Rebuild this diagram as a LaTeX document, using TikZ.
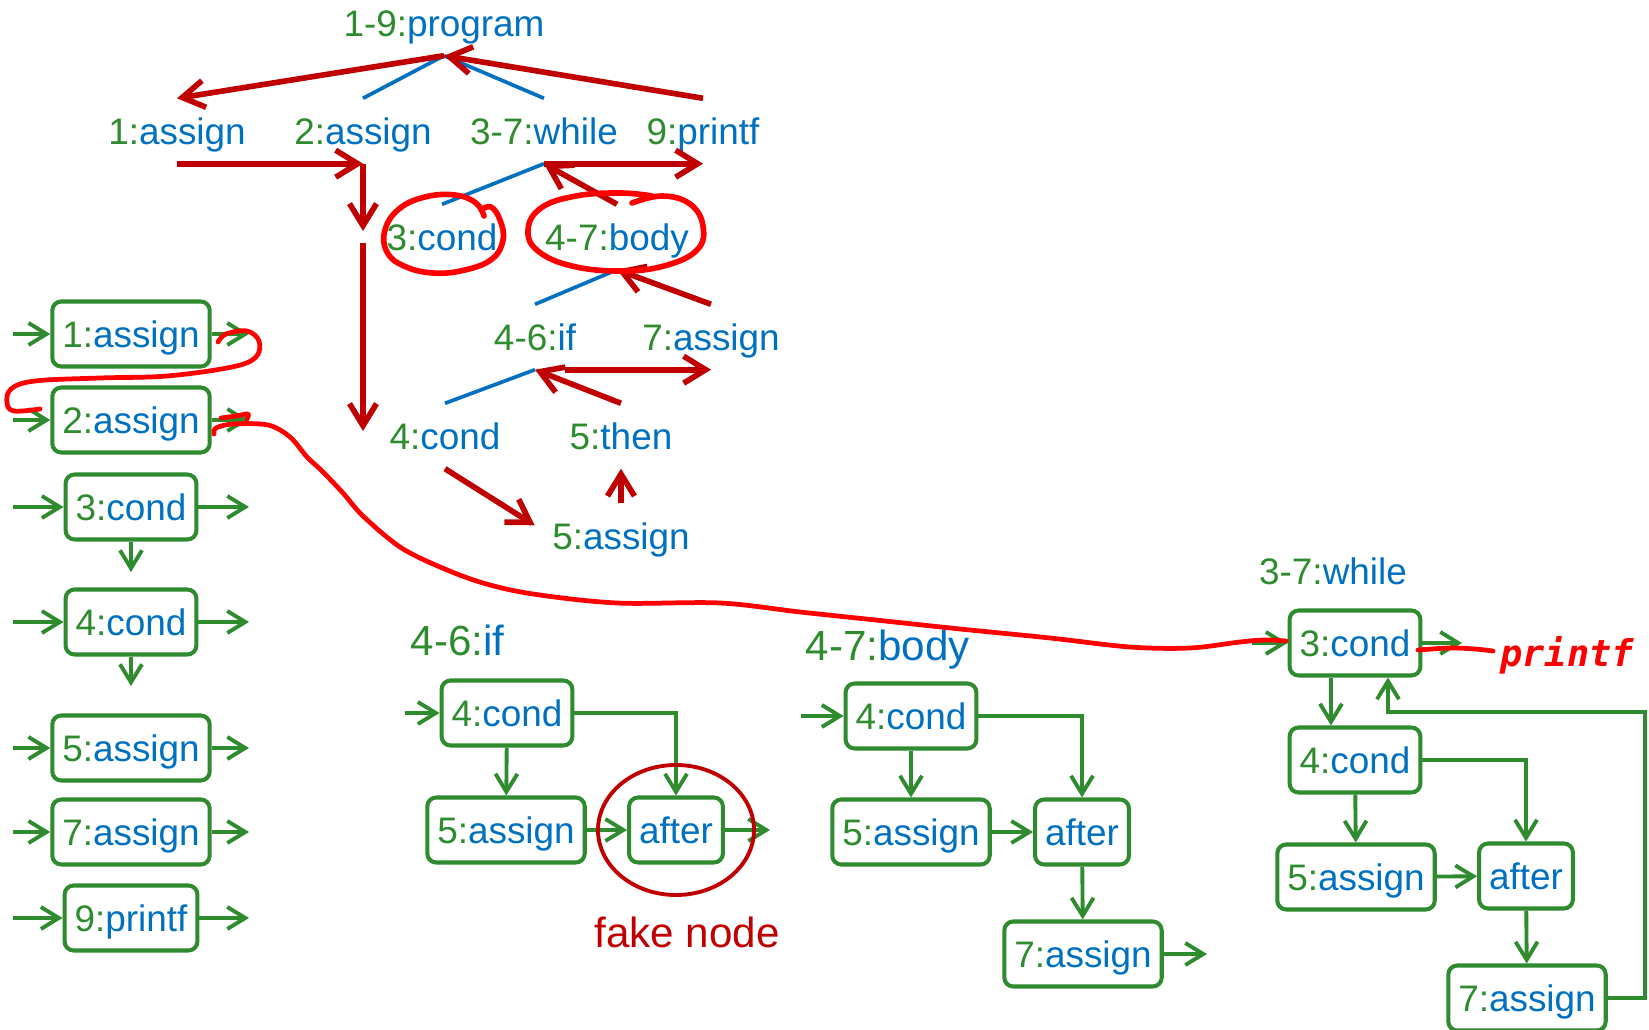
\documentclass[tikz,border=0pt]{standalone}
\usepackage{fontspec}
\setmainfont{Liberation Sans}
\newfontfamily\penfont{DejaVu Sans Mono}
\usepackage{tikz}
\usetikzlibrary{arrows.meta}
\usepackage{xcolor}

\definecolor{cfggreen}{RGB}{46,139,46}
\definecolor{cfgblue}{RGB}{0,112,192}
\definecolor{walkred}{RGB}{192,0,0}
\definecolor{penred}{RGB}{255,0,0}

% line number part in green, kind of statement in blue
\newcommand{\cfgname}[2]{\textcolor{cfggreen}{#1}\textcolor{cfgblue}{#2}}

\begin{document}
\begin{tikzpicture}[x=0.1mm, y=-0.1mm,
  tree/.style={inner sep=0pt, minimum height=6.4mm, text height=7.5pt, text depth=0pt, font=\fontsize{10.5}{12}\selectfont},
  blk/.style={draw=cfggreen, line width=1.15pt, rounded corners=0.9mm, inner xsep=1mm, inner ysep=0pt, minimum height=6.5mm, text height=7.5pt, text depth=0pt, font=\fontsize{10.5}{12}\selectfont},
  group/.style={inner sep=0pt, text height=8.6pt, text depth=0pt, font=\fontsize{12}{14}\selectfont},
  flow/.style={cfggreen, line width=1.1pt, -{Straight Barb[length=1.8mm,width=2.2mm]}},
  walk/.style={walkred, line width=1.6pt, -{Straight Barb[length=2.2mm,width=2.7mm]}},
  ast/.style={cfgblue, line width=1.05pt},
  pen/.style={penred, line width=1.35pt, line cap=round, line join=round}]
\useasboundingbox (0,0) rectangle (1649,1030);

% syntax tree
\node[tree] (prog) at (444,23) {\cfgname{1-9:}{program}};
\node[tree] (t1) at (177,131) {\cfgname{1:}{assign}};
\node[tree] (t2) at (363,131) {\cfgname{2:}{assign}};
\node[tree] (tw) at (544,131) {\cfgname{3-7:}{while}};
\node[tree] (t9) at (703,131) {\cfgname{9:}{printf}};
\node[tree] (tc) at (442,237) {\cfgname{3:}{cond}};
\node[tree] (tb) at (617,237) {\cfgname{4-7:}{body}};
\node[tree] (ti) at (535,337) {\cfgname{4-6:}{if}};
\node[tree] (t7) at (711,337) {\cfgname{7:}{assign}};
\node[tree] (t4) at (445,436) {\cfgname{4:}{cond}};
\node[tree] (tt) at (621,436) {\cfgname{5:}{then}};
\node[tree] (ta) at (621,536) {\cfgname{5:}{assign}};

\draw[ast] (prog.south) -- (t2.north);
\draw[ast] (prog.south) -- (tw.north);
\draw[ast] (tw.south) -- (tc.north);
\draw[ast] (tb.south) -- (ti.north);
\draw[ast] (ti.south) -- (t4.north);

% walk over the tree
\draw[walk] (prog.south) -- (t1.north);
\draw[walk] (t9.north) -- (prog.south);
\draw[walk] (t1.south) -- (t2.south);
\draw[walk, shorten >=0.6mm] (t2.south) -- (t2.south |- tc.west);
\draw[walk, shorten <=0.6mm, shorten >=0.5mm] (t2.south |- tc.west) -- (t2.south |- t4.west);
\draw[walk] (tw.south) -- (t9.south);
\draw[walk] (tb.north) -- (tw.south);
\draw[walk] (t7.north) -- (tb.south);
\draw[walk] (tt.north) -- (ti.south);
\draw[walk, shorten <=3mm] (ti.south) -- (t7.south);
\draw[walk, shorten >=2mm] (t4.south) -- (ta.west);
\draw[walk] (ta.north) -- (tt.south);

% one block per statement
\foreach \n/\idx/\kind/\y in {1/1:/assign/334, 2/2:/assign/420, 3/3:/cond/507, 4/4:/cond/622, 5/5:/assign/748, 7/7:/assign/832, 9/9:/printf/918}{
  \node[blk] (b\n) at (131,\y) {\cfgname{\idx}{\kind}};
  \coordinate (b\n in) at (13,\y);
  \coordinate (b\n out) at (249,\y);
  \draw[flow] (b\n in) -- (b\n);
  \draw[flow] (b\n) -- (b\n out);
}
\coordinate (b3 down) at (131,572);
\coordinate (b4 down) at (131,686);
\draw[flow] (b3) -- (b3 down);
\draw[flow] (b4) -- (b4 down);

% if
\node[group, anchor=west] (ifhead) at (410,640) {\cfgname{4-6:}{if}};
\node[blk] (i4) at (507,713) {\cfgname{4:}{cond}};
\node[blk] (i5) at (506,830) {\cfgname{5:}{assign}};
\node[blk] (ia) at (676,830) {\textcolor{cfgblue}{after}};
\coordinate (i in) at (405,713);
\coordinate (i out) at (770,830);
\draw[flow] (i in) -- (i4);
\draw[flow] (i4) -- (i5);
\draw[flow] (i4) -| (ia);
\draw[flow] (i5) -- (ia);
\draw[flow] (ia) -- (i out);
\draw[walkred, line width=1.1pt] (ia.center) ellipse [x radius=7.8mm, y radius=6.5mm];
\node[group, text=walkred] (fake) at (687,932) {fake node};

% body
\node[group, anchor=west] (bodyhead) at (805,645) {\cfgname{4-7:}{body}};
\node[blk] (y4) at (911,716) {\cfgname{4:}{cond}};
\node[blk] (y5) at (911,832) {\cfgname{5:}{assign}};
\node[blk] (ya) at (1082,832) {\textcolor{cfgblue}{after}};
\node[blk] (y7) at (1083,954) {\cfgname{7:}{assign}};
\coordinate (y in) at (801,716);
\coordinate (y out) at (1207,954);
\draw[flow] (y in) -- (y4);
\draw[flow] (y4) -- (y5);
\draw[flow] (y4) -| (ya);
\draw[flow] (y5) -- (ya);
\draw[flow] (ya) -- (y7);
\draw[flow] (y7) -- (y out);

% while
\node[tree] (whilehead) at (1333,571) {\cfgname{3-7:}{while}};
\node[blk] (w3) at (1355,643) {\cfgname{3:}{cond}};
\node[blk] (w4) at (1355,760) {\cfgname{4:}{cond}};
\node[blk] (w5) at (1356,877) {\cfgname{5:}{assign}};
\node[blk] (wa) at (1526,876) {\textcolor{cfgblue}{after}};
\node[blk] (w7) at (1527,998) {\cfgname{7:}{assign}};
\coordinate (w in) at (1252,643);
\coordinate (w out) at (1462,643);
\coordinate (w loop) at (1645,712);
\draw[flow] (w in) -- (w3);
\draw[flow] (w3) -- (w out);
\draw[flow] ([xshift=-2.4mm]w3.south) -- ([xshift=-2.4mm]w4.north);
\draw[flow] (w4) -- (w5);
\draw[flow] (w4) -| (wa);
\draw[flow] (w5) -- (wa);
\draw[flow] (wa) -- (w7);
\draw[flow] (w7) -| (w loop) -| ([xshift=3.3mm]w3.south);

% pen notes on top
\draw[pen, line width=1.6pt] plot[smooth, tension=0.7] coordinates {(484,216) (476,203) (455,195) (425,197) (399,209) (385,230) (387,252) (404,266) (433,273) (465,270) (492,259) (503,240) (500,220) (491,207) (481,210)};
\draw[pen, line width=1.6pt] plot[smooth, tension=0.7] coordinates {(632,203) (662,196) (690,204) (703,226) (697,250) (664,266) (620,271) (572,266) (538,251) (528,230) (541,208) (576,196) (620,193) (652,196)};
\draw[pen] plot[smooth, tension=0.6] coordinates {(218,342) (226,334) (247,331) (259,341) (256,357) (232,367) (167,376) (100,378) (35,381) (11,389) (7,403) (14,411) (40,409)};
\draw[pen] plot[smooth] coordinates {(221,418) (236,416) (248,414) (247,419)};
\draw[pen] plot[smooth, tension=0.55] coordinates {(214,434) (216,428) (233,424) (268,425) (290,437) (307,457) (322,471) (343,493) (363,516) (400,547) (440,567) (483,583) (533,594) (617,603) (720,603) (800,612) (885,621) (960,629) (1050,638) (1130,647) (1190,648) (1240,642) (1265,640) (1286,641)};
\draw[pen] plot[smooth] coordinates {(1418,650) (1450,648) (1475,649) (1493,651)};
\node[text=penred, font=\fontsize{10.5}{12}\penfont\bfseries\itshape] (pf) at (1567,655) {printf};
\end{tikzpicture}
\end{document}
